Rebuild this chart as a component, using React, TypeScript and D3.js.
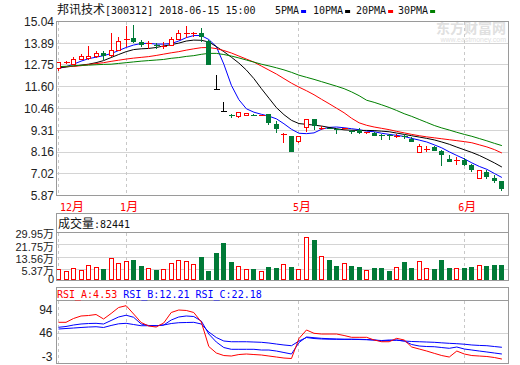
import React from "react";
import * as d3 from "d3";

// ---------- DATA ----------
const opens = [12.57,12.85,12.78,13.04,13.10,13.18,13.39,13.23,13.53,14.08, 14.15,13.94,13.85,13.80,13.72,13.80,14.10,14.40,14.37,14.45, 14.03,11.46,10.31,10.12,10.01,10.10,10.12,10.08,10.14,9.66, 9.08,8.99,8.74,9.45,9.89,9.40,9.42,9.38,9.36,9.25, 9.34,9.18,9.16,9.06,9.02,8.98,8.97,8.87,8.16,8.30, 8.42,8.21,7.81,7.70,7.72,7.46,6.75,7.10,6.80,6.63];
const highs = [12.90,12.95,13.15,13.31,13.75,13.48,13.50,14.45,14.24,14.80, 14.86,14.06,14.03,13.90,13.97,14.24,14.59,14.80,14.50,14.68, 14.06,12.21,10.80,10.19,10.24,10.22,10.15,10.12,10.16,9.80, 9.18,9.00,8.99,9.87,9.89,9.55,9.45,9.42,9.45,9.30, 9.45,9.23,9.20,9.10,9.10,9.10,9.10,8.94,8.60,8.46, 8.46,8.25,7.98,7.90,7.87,7.55,7.19,7.19,6.93,6.66];
const lows = [12.44,12.80,12.76,13.00,13.00,13.10,13.00,13.18,13.50,13.68, 13.89,13.71,13.57,13.60,13.57,13.75,14.06,14.15,14.24,13.97, 12.74,11.46,10.31,9.93,9.93,10.05,10.08,10.06,9.61,9.18, 8.63,8.16,8.63,9.22,9.34,9.32,9.36,9.13,9.30,9.10, 9.10,9.10,8.98,8.78,8.81,8.92,8.85,8.69,8.16,8.16, 8.21,7.45,7.63,7.46,7.45,7.10,6.75,6.75,6.52,6.10];
const closes = [12.88,12.90,13.04,13.22,13.18,13.36,13.22,13.53,14.01,14.12, 13.94,13.80,13.88,13.76,13.75,14.10,14.42,14.43,14.40,14.24, 12.74,11.46,10.31,10.10,10.24,10.19,10.10,10.10,9.71,9.40, 9.12,8.16,8.99,9.87,9.52,9.45,9.40,9.34,9.40,9.22, 9.16,9.20,9.00,9.04,9.00,9.02,8.95,8.69,8.46,8.32, 8.21,8.02,7.63,7.74,7.49,7.19,7.19,6.87,6.63,6.22];
// volume in 万
const volumes = [5.2,4.3,6.3,4.4,8.2,7.0,5.9,12.4,9.6,11.0, 11.8,7.7,5.8,5.0,5.45,9.4,11.4,11.0,8.8,13.6, 4.5,16.4,23.1,10.5,7.6,5.45,5.5,4.3,7.0,6.3, 9.0,7.0,5.65,26.6,24.8,14.3,11.6,7.6,9.6,7.6, 7.0,5.0,6.3,6.3,4.3,6.8,10.3,6.3,10.75,6.1, 5.65,11.6,6.3,6.1,6.3,7.0,8.1,7.6,8.3,8.24];
const ma5 = [12.56,12.66,12.79,12.95,13.08,13.16,13.24,13.35,13.51,13.67, 13.80,13.88,13.89,13.85,13.85,13.88,14.01,14.19,14.30,14.30, 14.09,13.72,12.79,11.68,10.92,10.44,10.26,10.15,10.05,9.91, 9.65,9.36,9.15,9.13,9.17,9.36,9.46,9.48,9.44,9.39, 9.34,9.26,9.23,9.15,9.09,9.04,8.98,8.88,8.79,8.69, 8.54,8.38,8.17,7.98,7.80,7.59,7.40,7.25,7.03,6.82];
const ma10 = [12.61,12.64,12.69,12.74,12.79,12.87,12.98,13.14,13.30,13.45, 13.56,13.60,13.62,13.67,13.75,13.82,13.90,14.01,14.06,14.05, 13.96,13.72,13.45,13.16,12.85,12.48,12.03,11.50,11.00,10.50, 10.13,9.83,9.66,9.62,9.58,9.53,9.46,9.39,9.33,9.31, 9.30,9.30,9.29,9.26,9.23,9.16,9.09,9.02,8.95,8.88, 8.80,8.69,8.57,8.42,8.28,8.14,7.98,7.79,7.59,7.37];
const ma20 = [12.65,12.66,12.68,12.71,12.77,12.82,12.87,12.94,13.00,13.06, 13.11,13.15,13.19,13.25,13.32,13.39,13.45,13.53,13.60,13.66, 13.67,13.61,13.51,13.38,13.22,13.06,12.90,12.69,12.48,12.27, 12.03,11.79,11.58,11.39,11.18,10.94,10.71,10.47,10.23,9.94, 9.70,9.57,9.48,9.41,9.34,9.25,9.17,9.09,9.02,8.96, 8.91,8.86,8.81,8.76,8.71,8.65,8.54,8.43,8.29,8.11];
const ma30 = [12.66,12.68,12.70,12.73,12.74,12.76,12.78,12.79,12.83,12.87, 12.91,12.95,12.98,13.01,13.04,13.10,13.14,13.20,13.24,13.31, 13.36,13.36,13.30,13.22,13.12,13.01,12.90,12.79,12.70,12.60, 12.49,12.36,12.21,12.10,11.99,11.87,11.75,11.63,11.50,11.33, 11.13,10.89,10.78,10.65,10.51,10.35,10.18,10.04,9.88,9.72, 9.56,9.43,9.32,9.20,9.09,8.99,8.87,8.75,8.62,8.50];
const rsiA = [68.3,68.3,76.3,81.5,82.5,84.6,75.2,86.7,99.2,103.0, 85.6,67.9,60.6,58.5,66.9,88.8,94.0,93.0,88.8,69.0, 17.8,4.3,-1.0,-2.0,1.1,2.2,1.1,0.1,-2.0,-4.1, -6.2,-7.2,34.5,52.3,45.4,43.9,43.9,43.9,40.8,37.0, 37.0,37.0,31.4,27.8,27.8,34.9,31.4,16.8,12.6,8.4, 3.6,-1.0,-4.1,8.4,2.2,-1.0,-2.0,-3.0,-5.1,-8.3];
const rsiB = [57.9,59.6,62.7,64.8,65.8,66.2,64.8,72.1,79.4,83.1, 78.8,64.8,61.7,61.2,62.7,73.1,79.4,81.5,80.4,71.0, 43.9,27.2,15.7,12.0,12.0,12.0,12.0,10.5,10.5,8.4, 5.3,2.2,26.2,37.7,36.2,34.9,34.1,33.5,32.9,32.9, 32.9,32.4,31.4,29.3,30.3,31.4,29.3,22.0,18.9,17.8, 17.4,15.7,14.1,16.8,12.6,10.5,8.4,6.4,4.3,2.2];
const rsiC = [54.3,55.4,56.4,57.5,58.5,59.1,57.5,61.7,65.2,66.2, 63.7,61.2,61.2,61.2,62.7,65.8,67.5,67.9,68.3,64.8, 48.1,36.6,29.3,27.8,27.8,27.8,27.2,26.6,25.1,23.0, 21.0,19.5,29.3,36.6,34.5,33.5,33.1,32.9,32.9,32.9, 32.4,32.0,31.4,30.3,31.4,31.0,29.3,28.3,27.8,27.2, 26.6,25.5,24.5,23.7,22.6,21.0,20.1,19.5,17.8,16.2];

const priceTicks = [15.04, 13.89, 12.75, 11.60, 10.46, 9.31, 8.16, 7.02, 5.87];
const volTicks = [29.95, 21.75, 13.56, 5.37, 0];
const volTickLabels = ["29.95万", "21.75万", "13.56万", "5.37万", "0"];
const rsiTicks = [94, 46, -3];
const monthLabels = ["12月", "1月", "5月", "6月"];
const monthIdx = [0, 9, 32, 54];
const maNames = ["5PMA", "10PMA", "20PMA", "30PMA"];
const rsiNames = ["RSI_A", "RSI_B", "RSI_C"];
const rsiLast = ["4.53", "12.21", "22.18"];
const stockName = "邦讯技术";
const stockInfo = "[300312] 2018-06-15 15:00";
const volLabel = "成交量";
const volLast = "82441";

// ---------- STYLE ----------
const RED = "#ff0000";
const GREEN = "#007a37";
const BLUE = "#0000ff";
const MAGREEN = "#008000";
const FRAME = "#9a9a9a";
const GRID = "#d4d4d4";
const DASH = "#c8c8c8";
const CJK = "'Noto Sans CJK SC', sans-serif";
const MONO = "'DejaVu Sans Mono', monospace";
const SANS = "'Liberation Sans', Arial, sans-serif";

const L = 56.5, R = 508.5;
const P = { top: 21.5, bottom: 195.5 };
const V = { top: 213.5, div: 232.5, bottom: 280.5 };
const S = { top: 287.5, div: 300.5, bottom: 363.5 };

const n = closes.length;
const x = d3.scaleLinear().domain([0, n - 1]).range([58.5, 501.9]);
const yP = d3.scaleLinear().domain([5.87, 15.04]).range([195.5, 21.5]);
const yV = d3.scaleLinear().domain([0, 29.95]).range([277.6, 232.5]);
const yR = d3.scaleLinear().domain([-3, 94]).range([356.5, 310]);

const cpx = (i: number) => Math.round(x(i) - 0.5) + 0.5;
const h5 = (v: number) => Math.round(v - 0.5) + 0.5;

const maLine = d3.line<number>().x((_, i) => x(i)).y((d) => yP(d));
const rsiLine = d3.line<number>().x((_, i) => x(i)).y((d) => yR(d));

function Candle({ i }: { i: number }) {
  const o = opens[i], c = closes[i], h = highs[i], l = lows[i];
  const cx = cpx(i);
  const color = c > o ? RED : c < o ? GREEN : "#000";
  const yt = yP(Math.max(o, c)), yb = yP(Math.min(o, c));
  const yh = yP(h), yl = yP(l);
  if (yb - yt < 1.5) {
    const ym = h5((yt + yb) / 2);
    return (
      <g stroke={color} strokeWidth={1} shapeRendering="crispEdges">
        <line x1={cx} x2={cx} y1={yh} y2={yl} />
        <line x1={cx - 3} x2={cx + 3} y1={ym} y2={ym} />
      </g>
    );
  }
  if (c > o) {
    const t = h5(yt), b = h5(yb);
    return (
      <g stroke={color} strokeWidth={1} shapeRendering="crispEdges">
        <line x1={cx} x2={cx} y1={yh} y2={t} />
        <line x1={cx} x2={cx} y1={b} y2={yl} />
        <rect x={cx - 2} y={t} width={4} height={b - t} fill="#fff" />
      </g>
    );
  }
  return (
    <g shapeRendering="crispEdges">
      <line x1={cx} x2={cx} y1={yh} y2={yl} stroke={color} strokeWidth={1} />
      <rect x={cx - 2.5} y={Math.round(yt)} width={5} height={Math.max(1, Math.round(yb) - Math.round(yt))} fill={color} />
    </g>
  );
}

function VolBar({ i }: { i: number }) {
  const o = opens[i], c = closes[i];
  const prev = i > 0 ? closes[i - 1] : o;
  const up = c > o || (c === o && c >= prev);
  const cx = cpx(i);
  const top = yV(volumes[i]);
  const bottom = 280;
  if (up) {
    const t = h5(top);
    return <rect x={cx - 2} y={t} width={4} height={bottom - 0.5 - t} fill="#fff" stroke={RED} strokeWidth={1} shapeRendering="crispEdges" />;
  }
  return <rect x={cx - 2.5} y={Math.round(top)} width={5} height={bottom - Math.round(top)} fill={GREEN} shapeRendering="crispEdges" />;
}

export default function App() {
  const maSeries = [ma5, ma10, ma20, ma30];
  const maColors = [BLUE, "#000", RED, MAGREEN];
  const legendX = [275, 313, 356, 398];
  return (
    <svg width={520} height={365} viewBox="0 0 520 365"
      style={{ position: "absolute", left: 0, top: 0, background: "#fff" }}>
      <rect x={0} y={0} width={520} height={365} fill="#fff" />
      {/* Title */}
      <text x={57} y={13.5} fill="#111">
        <tspan fontFamily={CJK} fontSize={12}>{stockName}</tspan>
        <tspan fontFamily={MONO} fontSize={10}>{stockInfo}</tspan>
      </text>
      {maNames.map((name, k) => (
        <g key={name}>
          <text x={legendX[k]} y={13.5} fontFamily={MONO} fontSize={10} fill="#111">{name}</text>
          <rect x={legendX[k] + name.length * 6.02 + 2} y={10} width={5} height={3} fill={maColors[k]} />
        </g>
      ))}

      {/* Watermark */}
      <text x={506} y={33} textAnchor="end" fontFamily={CJK} fontSize={14} fontWeight="bold" fill="#e0e0e0">东方财富网</text>
      <text x={506} y={42} textAnchor="end" fontFamily={SANS} fontSize={7} fill="#e0e0e0">www.eastmoney.com</text>

      {/* ===== Price panel ===== */}
      <g shapeRendering="crispEdges">
        {priceTicks.slice(1, -1).map((t) => (
          <line key={t} x1={L} x2={R} y1={h5(yP(t))} y2={h5(yP(t))} stroke={GRID} />
        ))}
        {monthIdx.map((m) => (
          <line key={m} x1={cpx(m)} x2={cpx(m)} y1={P.top} y2={P.bottom} stroke={DASH} strokeDasharray="3,3" />
        ))}
      </g>
      {priceTicks.map((t) => (
        <text key={t} x={54} y={yP(t)} dy="0.36em" textAnchor="end" fontFamily={SANS} fontSize={12} fill="#222">
          {t.toFixed(2)}
        </text>
      ))}
      {maSeries.map((s, k) => (
        <path key={k} d={maLine(s) || ""} fill="none" stroke={maColors[k]} strokeWidth={1} />
      ))}
      {closes.map((_, i) => <Candle key={i} i={i} />)}
      <rect x={L} y={P.top} width={R - L} height={P.bottom - P.top} fill="none" stroke={FRAME} shapeRendering="crispEdges" />

      {/* Month labels */}
      {monthLabels.map((lab, k) => {
        const xm = x(monthIdx[k]);
        const first = k === 0;
        return (
          <text key={lab} x={first ? 60 : xm + 3} y={211} textAnchor={first ? "start" : "middle"} fill={RED}>
            <tspan fontFamily={MONO} fontSize={10}>{lab.slice(0, -1)}</tspan>
            <tspan fontFamily={CJK} fontSize={12}>{lab.slice(-1)}</tspan>
          </text>
        );
      })}

      {/* ===== Volume panel ===== */}
      <g shapeRendering="crispEdges">
        {volTicks.slice(1, -1).map((t) => (
          <line key={t} x1={L} x2={R} y1={h5(yV(t))} y2={h5(yV(t))} stroke={GRID} />
        ))}
        {monthIdx.map((m) => (
          <line key={m} x1={cpx(m)} x2={cpx(m)} y1={V.div} y2={V.bottom} stroke={DASH} strokeDasharray="3,3" />
        ))}
      </g>
      {volumes.map((_, i) => <VolBar key={i} i={i} />)}
      {volTicks.map((t, k) => {
        const lab = volTickLabels[k];
        const hasWan = lab.endsWith("万");
        return (
          <text key={t} x={54} y={yV(t)} dy="0.36em" textAnchor="end" fill="#222">
            <tspan fontFamily={SANS} fontSize={11}>{hasWan ? lab.slice(0, -1) : lab}</tspan>
            {hasWan && <tspan fontFamily={CJK} fontSize={11}>万</tspan>}
          </text>
        );
      })}
      <g shapeRendering="crispEdges" fill="none" stroke={FRAME}>
        <rect x={L} y={V.top} width={R - L} height={V.bottom - V.top} />
        <line x1={L} x2={R} y1={V.div} y2={V.div} />
      </g>
      <text x={58} y={227.5} fill="#111">
        <tspan fontFamily={CJK} fontSize={12}>{volLabel}</tspan>
        <tspan fontFamily={MONO} fontSize={10}>{":" + volLast}</tspan>
      </text>

      {/* ===== RSI panel ===== */}
      <g shapeRendering="crispEdges">
        <line x1={L} x2={R} y1={h5(yR(46))} y2={h5(yR(46))} stroke={GRID} />
        {monthIdx.map((m) => (
          <line key={m} x1={cpx(m)} x2={cpx(m)} y1={S.div} y2={S.bottom} stroke={DASH} strokeDasharray="3,3" />
        ))}
      </g>
      {rsiTicks.map((t) => (
        <text key={t} x={52.5} y={yR(t)} dy="0.36em" textAnchor="end" fontFamily={SANS} fontSize={12} fill="#222">{t}</text>
      ))}
      <path d={rsiLine(rsiC) || ""} fill="none" stroke={BLUE} strokeWidth={1} />
      <path d={rsiLine(rsiB) || ""} fill="none" stroke={BLUE} strokeWidth={1} />
      <path d={rsiLine(rsiA) || ""} fill="none" stroke={RED} strokeWidth={1} />
      <g shapeRendering="crispEdges" fill="none" stroke={FRAME}>
        <rect x={L} y={S.top} width={R - L} height={S.bottom - S.top} />
        <line x1={L} x2={R} y1={S.div} y2={S.div} />
      </g>
      <text x={57} y={297.5} fontFamily={MONO} fontSize={10}>
        {rsiNames.map((nm, k) => (
          <tspan key={nm} fill={k === 0 ? RED : BLUE}>{(k > 0 ? " " : "") + nm + ":" + rsiLast[k]}</tspan>
        ))}
      </text>
    </svg>
  );
}
